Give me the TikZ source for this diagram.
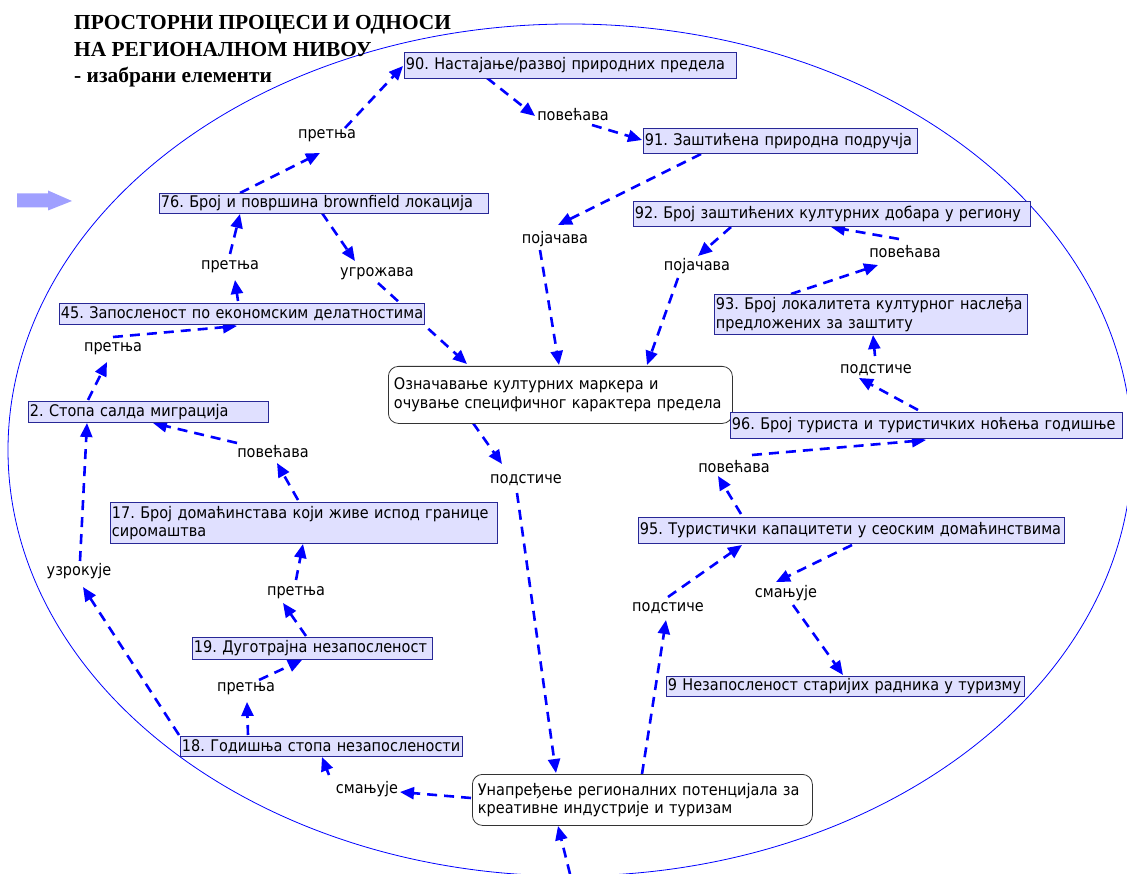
\documentclass[tikz,border=0pt]{standalone}
\usepackage{fontspec}
\setmainfont{DejaVu Sans}
\newfontfamily\boxfnt[FakeStretch=0.905]{DejaVu Sans}
\newfontfamily\titlefnt{Liberation Serif}
\usetikzlibrary{arrows.meta}
\definecolor{boxfill}{RGB}{224,224,255}
\definecolor{boxline}{RGB}{40,40,150}
\definecolor{relblue}{RGB}{0,0,255}
\definecolor{arrowfill}{RGB}{160,160,255}
\newcommand\nodefnt{\boxfnt\frenchspacing\fontsize{16}{18.4}\selectfont}
\pgfdeclarelayer{bg}
\pgfsetlayers{bg,main}
\begin{document}
\begin{tikzpicture}[x=1pt,y=-1pt,
  box/.style={draw=boxline, fill=boxfill, line width=0.8pt, anchor=north west, inner xsep=1.5pt, inner ysep=0pt, align=left, font=\nodefnt},
  rbox/.style={draw=black!80, fill=white, line width=0.8pt, rounded corners=10pt, anchor=north west, inner xsep=5.5pt, inner ysep=0pt, align=left, font=\nodefnt},
  lbl/.style={inner sep=1pt, font=\nodefnt},
  rel/.style={draw=relblue, line width=2.6pt, dash pattern=on 10pt off 7pt, -{Triangle[length=14pt,width=12pt]}},
]
\useasboundingbox (0,0) rectangle (1127,874);

% title
\node[anchor=north west, inner sep=0pt, align=left, font=\titlefnt\bfseries\fontsize{21.4}{26.5}\selectfont] (title) at (74,15.5)
  {ПРОСТОРНИ ПРОЦЕСИ И ОДНОСИ\\НА РЕГИОНАЛНОМ НИВОУ\\- изабрани елементи};

% block arrow
\fill[arrowfill] (17,193.5) -- (48,193.5) -- (48,190.5) -- (72,201) -- (48,210.5) -- (48,207.5) -- (17,207.5) -- cycle;

% boxes
\node[box, text width=329pt, minimum height=26] (n90) at (404,52) {\mbox{90. Настајање/развој природних предела}};
\node[box, text width=271pt, minimum height=25] (n91) at (643,128) {\mbox{91. Заштићена природна подручја}};
\node[box, text width=326pt, minimum height=20] (n76) at (159,193) {\mbox{76. Број и површина brownfield локација}};
\node[box, text width=394pt, minimum height=25] (n92) at (633,201) {\mbox{92. Број заштићених културних добара у региону}};
\node[box, text width=362pt, minimum height=21] (n45) at (59,303) {\mbox{45. Запосленост по економским делатностима}};
\node[box, text width=310pt, minimum height=40] (n93) at (714,294) {\mbox{93. Број локалитета културног наслеђа}\\\mbox{предложених за заштиту}};
\node[rbox, text width=333pt, minimum height=57] (nO) at (388,366) {\mbox{Означавање културних маркера и}\\\mbox{очување специфичног карактера предела}};
\node[box, text width=237pt, minimum height=21] (n2) at (28,401) {\mbox{2. Стопа салда миграција}};
\node[box, text width=389pt, minimum height=26] (n96) at (730,412) {\mbox{96. Број туриста и туристичких ноћења годишње}};
\node[box, text width=384pt, minimum height=41] (n17) at (110,502) {\mbox{17. Број домаћинстава који живе испод границе}\\\mbox{сиромаштва}};
\node[box, text width=423pt, minimum height=26] (n95) at (638,517) {\mbox{95. Туристички капацитети у сеоским домаћинствима}};
\node[box, text width=237pt, minimum height=22] (n19) at (192,637) {\mbox{19. Дуготрајна незапосленост}};
\node[box, text width=355pt, minimum height=20] (n9) at (666,676) {\mbox{9 Незапосленост старијих радника у туризму}};
\node[box, text width=279pt, minimum height=20] (n18) at (180,736) {\mbox{18. Годишња стопа незапослености}};
\node[rbox, text width=329pt, minimum height=51] (nU) at (472,774) {\mbox{Унапређење регионалних потенцијала за}\\\mbox{креативне индустрије и туризам}};

% labels
\node[lbl] (l1) at (327,136) {претња};
\node[lbl] (l2) at (573,115) {повећава};
\node[lbl] (l3) at (555,239) {појачава};
\node[lbl] (l4) at (697,266) {појачава};
\node[lbl] (l5) at (905,252) {повећава};
\node[lbl] (l6) at (876,370) {подстиче};
\node[lbl] (l7) at (377,274) {угрожава};
\node[lbl] (l8) at (230,267) {претња};
\node[lbl] (l9) at (113,349) {претња};
\node[lbl] (l10) at (273,452) {повећава};
\node[lbl] (l11) at (526,480) {подстиче};
\node[lbl] (l12) at (734,467) {повећава};
\node[lbl] (l13) at (79,571) {узрокује};
\node[lbl] (l14) at (296,593) {претња};
\node[lbl] (l15) at (668,608) {подстиче};
\node[lbl] (l16) at (786,593) {смањује};
\node[lbl] (l17) at (246,689) {претња};
\node[lbl] (l18) at (367,789) {смањује};

\coordinate (cin) at (570,874);

\begin{pgfonlayer}{bg}
\draw[relblue, line width=0.8pt] (570,450) ellipse [x radius=562pt, y radius=426pt];

\draw[rel] ([shift={(81,0)}]n76.north west) -- ([shift={(-7,17)}]l1.center);
\draw[rel] ([shift={(18,-8)}]l1.center) -- ([shift={(-1,14)}]n90.north west);
\draw[rel] ([shift={(83,26)}]n90.north west) -- ([shift={(-38,1)}]l2.center);
\draw[rel] ([shift={(19,10)}]l2.center) -- ([shift={(-1,12)}]n91.north west);
\draw[rel] ([shift={(58,26)}]n91.north west) -- ([shift={(3,-14)}]l3.center);
\draw[rel] ([shift={(-15,11)}]l3.center) -- ([shift={(171,-1)}]nO.north west);
\draw[rel] ([shift={(98,26)}]n92.north west) -- ([shift={(1,-10)}]l4.center);
\draw[rel] ([shift={(-19,12)}]l4.center) -- ([shift={(259,-1)}]nO.north west);
\draw[rel] ([shift={(77,0)}]n93.north west) -- ([shift={(-27,13)}]l5.center);
\draw[rel] ([shift={(-6,-13)}]l5.center) -- ([shift={(198,26)}]n92.north west);
\draw[rel] ([shift={(188,-2)}]n96.north west) -- ([shift={(-17,8)}]l6.center);
\draw[rel] ([shift={(-1,-14)}]l6.center) -- ([shift={(159,41)}]n93.north west);
\draw[rel] ([shift={(103,-3)}]n95.north west) -- ([shift={(-16,9)}]l12.center);
\draw[rel] ([shift={(18,-12)}]l12.center) -- ([shift={(196,28)}]n96.north west);
\draw[rel] ([shift={(170,0)}]nU.north west) -- ([shift={(-2,12)}]l15.center);
\draw[rel] ([shift={(0,-11)}]l15.center) -- ([shift={(104,28)}]n95.north west);
\draw[rel] ([shift={(214,28)}]n95.north west) -- ([shift={(-10,-11)}]l16.center);
\draw[rel] ([shift={(7,12)}]l16.center) -- ([shift={(177,-1)}]n9.north west);
\draw[rel] ([shift={(85,57)}]nO.north west) -- ([shift={(-24,-16)}]l11.center);
\draw[rel] ([shift={(-9,13)}]l11.center) -- ([shift={(84,-1)}]nU.north west);
\draw[rel] ([shift={(163,20)}]n76.north west) -- ([shift={(-22,-13)}]l7.center);
\draw[rel] ([shift={(1,9)}]l7.center) -- ([shift={(79,-2)}]nO.north west);
\draw[rel] ([shift={(179,-2)}]n45.north west) -- ([shift={(5,13)}]l8.center);
\draw[rel] ([shift={(0,-13)}]l8.center) -- ([shift={(81,21)}]n76.north west);
\draw[rel] ([shift={(60,-1)}]n2.north west) -- ([shift={(-6,13)}]l9.center);
\draw[rel] ([shift={(0,-12)}]l9.center) -- ([shift={(178,23)}]n45.north west);
\draw[rel] ([shift={(188,-2)}]n17.north west) -- ([shift={(4,11)}]l10.center);
\draw[rel] ([shift={(-36,-9)}]l10.center) -- ([shift={(125,22)}]n2.north west);
\draw[rel] ([shift={(-1,-1)}]n18.north west) -- ([shift={(4,16)}]l13.center);
\draw[rel] ([shift={(1,-10)}]l13.center) -- ([shift={(59,22)}]n2.north west);
\draw[rel] ([shift={(114,-1)}]n19.north west) -- ([shift={(-13,10)}]l14.center);
\draw[rel] ([shift={(0,-13)}]l14.center) -- ([shift={(193,42)}]n17.north west);
\draw[rel] ([shift={(68,-1)}]n18.north west) -- ([shift={(1,13)}]l17.center);
\draw[rel] ([shift={(13,-9)}]l17.center) -- ([shift={(110,23)}]n19.north west);
\draw[rel] ([shift={(-1,24)}]nU.north west) -- ([shift={(33,3)}]l18.center);
\draw[rel] ([shift={(-38,-14)}]l18.center) -- ([shift={(142,21)}]n18.north west);
\draw[rel] (cin) -- ([shift={(86,52)}]nU.north west);
\end{pgfonlayer}
\end{tikzpicture}
\end{document}
